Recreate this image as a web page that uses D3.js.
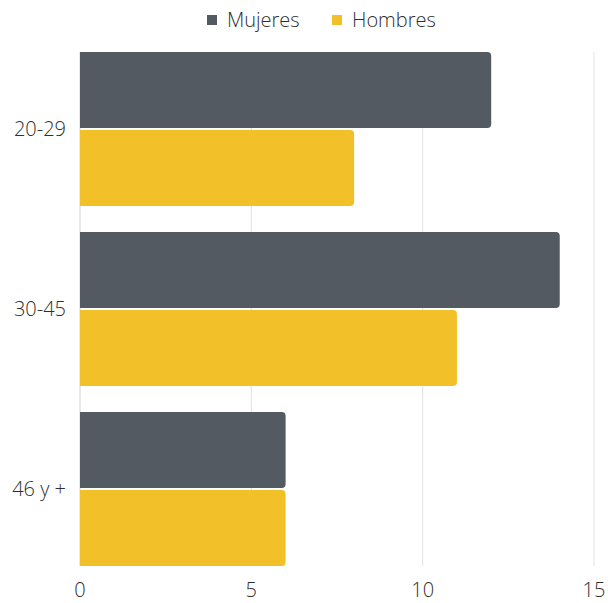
<!DOCTYPE html>
<html>
<head>
<meta charset="utf-8">
<script src="https://cdn.jsdelivr.net/npm/d3@7"></script>
<style>
  body { margin: 0; background: #fff; }
  text { font-family: "Open Sans", sans-serif; fill: #2f2f2f; }
</style>
</head>
<body>
<div id="chart"></div>
<script>
// data
const categories = ["20-29", "30-45", "46 y +"];
const seriesNames = ["Mujeres", "Hombres"];
const mujeres = [12, 14, 6];
const hombres = [8, 11, 6];
const xTicks = [0, 5, 10, 15];
const colors = ["#535a62", "#f2c12a"];

const W = 608, H = 603;
const margin = {top: 39, right: 14, bottom: 24, left: 80};

const svg = d3.select("#chart")
  .append("svg")
    .attr("width", W)
    .attr("height", H);

const g = svg.append("g")
    .attr("transform", `translate(${margin.left},${margin.top})`);

const x = d3.scaleLinear().domain([0, 15]).range([0, 514]);

const y0 = d3.scaleBand()
    .domain(categories)
    .range([0, 540])
    .paddingInner(26 / 180)
    .paddingOuter(13 / 180);

const y1 = d3.scaleBand()
    .domain(seriesNames)
    .range([0, y0.bandwidth()])
    .paddingInner(2 / 78);

// grid lines
const gridTop = y0(categories[0]);
const gridBottom = y0(categories[categories.length - 1]) + y0.bandwidth();
g.append("g").selectAll("line")
  .data(xTicks)
  .join("line")
    .attr("x1", d => x(d))
    .attr("x2", d => x(d))
    .attr("y1", gridTop)
    .attr("y2", gridBottom)
    .attr("stroke", d => d === 0 ? "#d0d0d0" : "#e2e2e2")
    .attr("stroke-width", 1);

// bars (rounded right end)
function barPath(w, h, r) {
  r = Math.min(r, w);
  return `M0,0H${w - r}Q${w},0 ${w},${r}V${h - r}Q${w},${h} ${w - r},${h}H0Z`;
}

const rows = categories.map((c, i) => ({cat: c, vals: [mujeres[i], hombres[i]]}));

const groups = g.selectAll(".grp")
  .data(rows)
  .join("g")
    .attr("class", "grp")
    .attr("transform", d => `translate(0,${y0(d.cat)})`);

groups.selectAll("path")
  .data(d => d.vals.map((v, j) => ({name: seriesNames[j], v: v, j: j})))
  .join("path")
    .attr("transform", d => `translate(0,${y1(d.name)})`)
    .attr("d", d => barPath(x(d.v) - x(0), y1.bandwidth(), 4))
    .attr("fill", d => colors[d.j]);

// category labels
g.selectAll(".cat")
  .data(categories)
  .join("text")
    .attr("class", "cat")
    .attr("x", -14)
    .attr("y", d => y0(d) + y0.bandwidth() / 2)
    .attr("dy", "0.35em")
    .attr("text-anchor", "end")
    .attr("font-size", 20)
    .attr("font-weight", 300)
    .text(d => d);

// x axis labels
g.selectAll(".xt")
  .data(xTicks)
  .join("text")
    .attr("class", "xt")
    .attr("x", d => x(d))
    .attr("y", 551)
    .attr("dy", "0.35em")
    .attr("text-anchor", "middle")
    .attr("font-size", 20)
    .attr("font-weight", 300)
    .text(d => d);

// legend
const legendX = [207, 332];
const legend = svg.append("g").selectAll("g")
  .data(seriesNames)
  .join("g")
    .attr("transform", (d, i) => `translate(${legendX[i]},20)`);

legend.append("rect")
    .attr("x", 0)
    .attr("y", -5)
    .attr("width", 10)
    .attr("height", 10)
    .attr("fill", (d, i) => colors[i]);

legend.append("text")
    .attr("x", 20)
    .attr("dy", "0.35em")
    .attr("font-size", 20)
    .attr("font-weight", 300)
    .text(d => d);
</script>
</body>
</html>
